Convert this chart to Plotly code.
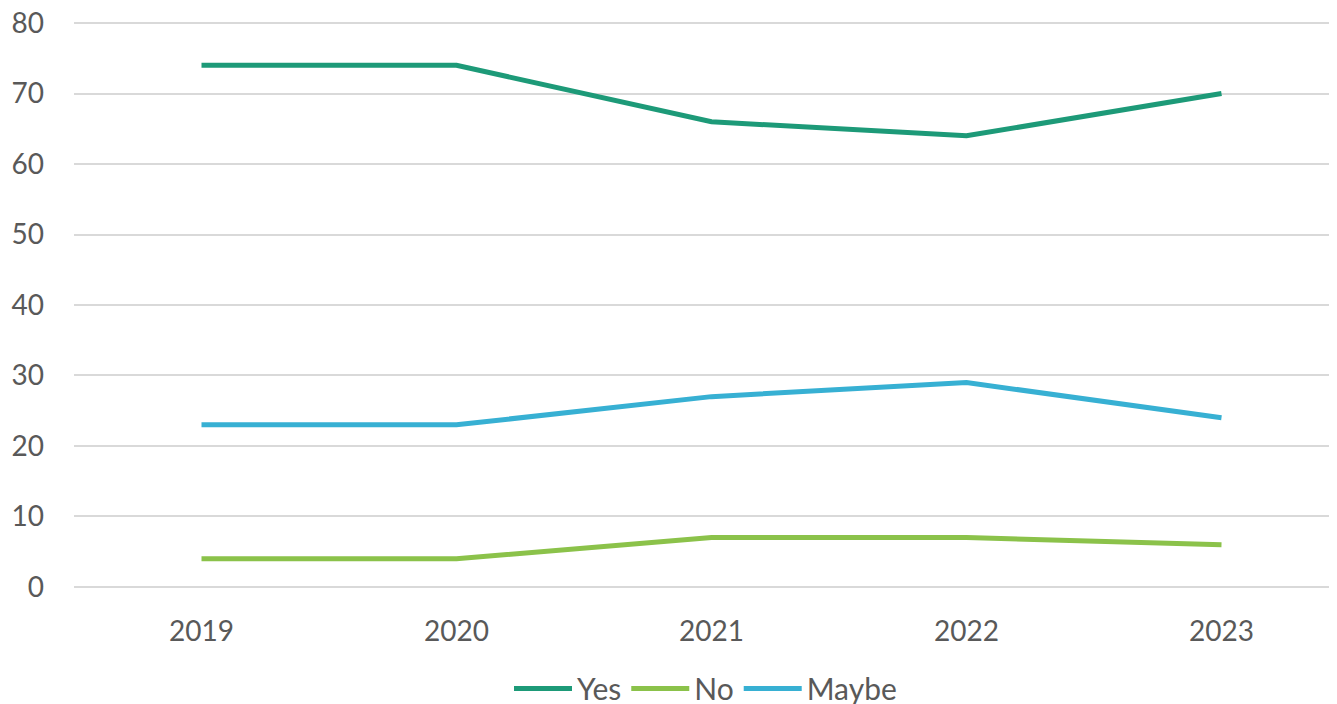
import plotly.graph_objects as go

years = ["2019", "2020", "2021", "2022", "2023"]
yes_vals = [74, 74, 66, 64, 70]
no_vals = [4, 4, 7, 7, 6]
maybe_vals = [23, 23, 27, 29, 24]

series = [
    ("Yes", yes_vals, "#1d9a78"),
    ("No", no_vals, "#8bc24a"),
    ("Maybe", maybe_vals, "#37b0d3"),
]

fig = go.Figure()
for name, vals, color in series:
    fig.add_trace(go.Scatter(
        x=years, y=vals, name=name, mode="lines",
        line=dict(color=color, width=5),
    ))

# page body has an 8px margin; figure sized to fit the window inside it
OFF = 8
W, H = 1337 - OFF, 704 - OFF
y_lo, y_hi = -0.15, 80.15
px_per = (587.3 - 22.7) / 80.0
top_px = 22.7 - OFF - (y_hi - 80) * px_per
bottom_px = 587.3 - OFF + (0 - y_lo) * px_per
plot_h = bottom_px - top_px
legend_y = (bottom_px - (689 - OFF)) / plot_h

fig.update_layout(
    width=W, height=H,
    margin=dict(l=74 - OFF, r=0, t=top_px, b=H - bottom_px, pad=0, autoexpand=False),
    paper_bgcolor="white", plot_bgcolor="white",
    font=dict(family="Lato, Open Sans, sans-serif", size=28, color="#595959"),
    showlegend=True,
    legend=dict(orientation="h", x=0.5, xanchor="center", y=legend_y, yanchor="middle",
                font=dict(size=30, color="#595959"), itemwidth=58, tracegroupgap=0),
    xaxis=dict(type="category", range=[-0.5, 4.453], showgrid=False, showline=False,
               zeroline=False, ticks="", ticklabelstandoff=24, automargin=False,
               ticklabeloverflow="allow"),
    yaxis=dict(range=[y_lo, y_hi], tick0=0, dtick=10, showgrid=True, gridcolor="#d9d9d9",
               gridwidth=1.5, zeroline=False, showline=False, ticks="",
               ticklabelstandoff=29, automargin=False, ticklabeloverflow="allow"),
)

fig.write_html("out.html")
